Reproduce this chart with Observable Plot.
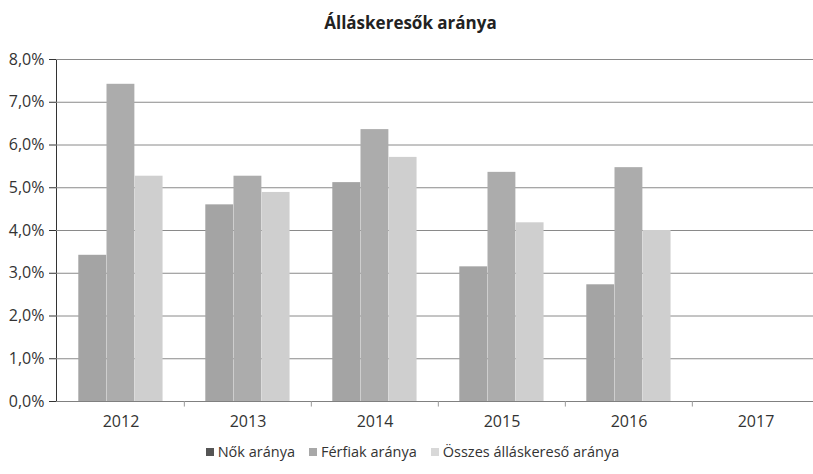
<!DOCTYPE html>
<html>
<head>
<meta charset="utf-8">
<script src="https://cdn.jsdelivr.net/npm/d3@7"></script>
<script src="https://cdn.jsdelivr.net/npm/@observablehq/plot@0.6"></script>
<style>
  html, body { margin: 0; padding: 0; background: #fff; }
  body { width: 813px; font-family: "Open Sans", sans-serif; }
  #title { height: 40px; line-height: 46px; text-align: center; font-weight: bold; font-size: 17px; color: #222; padding-left: 8px; }
  #legend { display: flex; justify-content: center; align-items: center; gap: 14px; font-size: 14.5px; color: #333; margin-top: 2px; padding-left: 12px; }
  #legend .item { display: flex; align-items: center; gap: 4px; }
  #legend .sw { width: 8px; height: 8px; display: inline-block; }
</style>
</head>
<body>
<div id="title">Álláskeresők aránya</div>
<div id="chart"></div>
<div id="legend"></div>
<script>
const years = ["2012", "2013", "2014", "2015", "2016", "2017"];
const seriesNames = ["Nők aránya", "Férfiak aránya", "Összes álláskereső aránya"];
const nok = [3.42, 4.60, 5.12, 3.15, 2.73, null];
const ferfiak = [7.42, 5.27, 6.36, 5.36, 5.47, null];
const osszes = [5.27, 4.89, 5.71, 4.18, 4.00, null];
const yTicks = [0, 1, 2, 3, 4, 5, 6, 7, 8];
const barColors = ["#a4a4a4", "#acacac", "#cfcfcf"];
const legendColors = ["#555555", "#a8a8a8", "#d8d8d8"];

const seriesValues = [nok, ferfiak, osszes];
const xRange = [56, 820];
const step = (xRange[1] - xRange[0]) / years.length;
const groupStart = 21.3;
const barW = 28.2;

const barMarks = seriesValues.map((vals, i) => {
  const data = years.map((y, j) => ({year: y, value: vals[j]})).filter(d => d.value != null);
  return Plot.barY(data, {
    x: "year", y: "value", fill: barColors[i],
    insetLeft: groupStart + barW * i,
    insetRight: step - (groupStart + barW * (i + 1))
  });
});

const fmt = d => d.toFixed(1).replace(".", ",") + "%";

const chart = Plot.plot({
  width: 813,
  height: 400,
  marginTop: 19,
  marginBottom: 39,
  marginLeft: 56,
  marginRight: 0,
  style: {fontFamily: "Open Sans, sans-serif", fontSize: "16px", color: "#333", background: "#fff"},
  x: {type: "band", domain: years, range: xRange, padding: 0, tickSize: 0, tickPadding: 14, label: null},
  y: {domain: [0, 8], ticks: yTicks, tickFormat: fmt, tickSize: 7, tickPadding: 5, label: null, line: true},
  marks: [
    Plot.ruleY(yTicks, {stroke: "#8a8a8a", strokeWidth: 1}),
    ...barMarks,
    Plot.ruleY([0], {stroke: "#808080", strokeWidth: 1.2}),
    Plot.ruleX(years.slice(1), {x: d => d, dx: -step / 2, y1: 0, y2: -0.13, stroke: "#999"})
  ]
});
document.getElementById("chart").appendChild(chart);

const legend = document.getElementById("legend");
seriesNames.forEach((name, i) => {
  const item = document.createElement("span");
  item.className = "item";
  const sw = document.createElement("span");
  sw.className = "sw";
  sw.style.background = legendColors[i];
  item.appendChild(sw);
  item.appendChild(document.createTextNode(name));
  legend.appendChild(item);
});
</script>
</body>
</html>
